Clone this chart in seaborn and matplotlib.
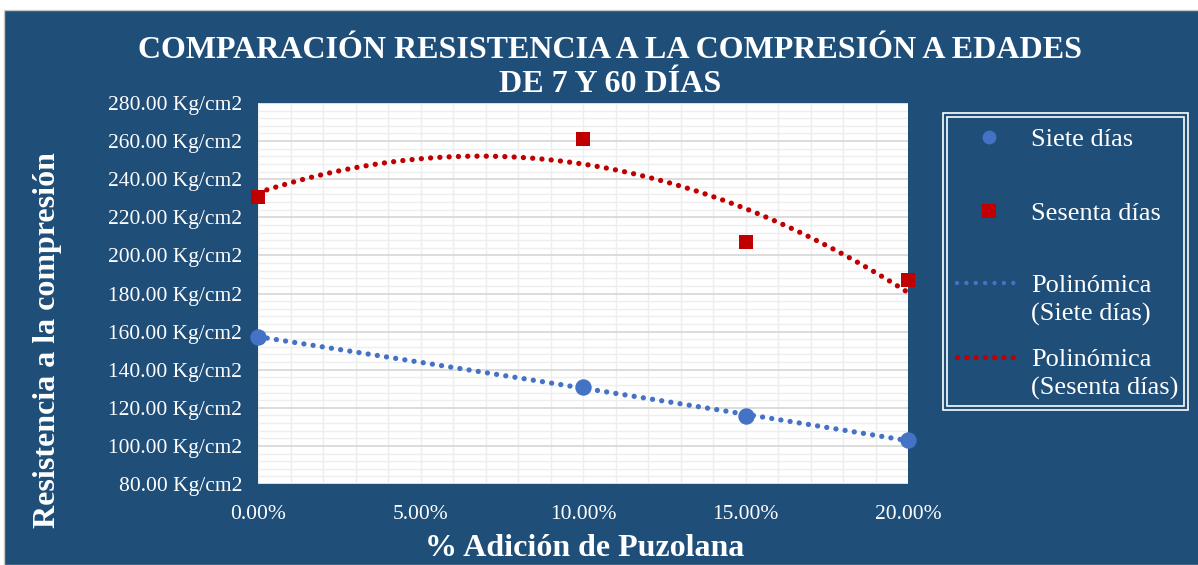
import numpy as np
import pandas as pd
import matplotlib
matplotlib.use("Agg")
import matplotlib.pyplot as plt
import seaborn as sns
from matplotlib.patches import Rectangle
from matplotlib.lines import Line2D
from matplotlib.ticker import MultipleLocator, FuncFormatter

# Data
adicion = [0.00, 0.10, 0.15, 0.20]
siete_dias = [157.2, 131.0, 115.7, 103.1]
sesenta_dias = [230.7, 261.1, 207.0, 187.1]

xticks = [0.00, 0.05, 0.10, 0.15, 0.20]
yticks = [80, 100, 120, 140, 160, 180, 200, 220, 240, 260, 280]

bg = "#1F4E79"
blue = "#4472C4"
red = "#C00000"

df = pd.DataFrame({"adicion": adicion, "siete": siete_dias, "sesenta": sesenta_dias})

sns.set_style("white")
plt.rcParams["font.family"] = ["Liberation Serif", "DejaVu Serif"]

W, H = 1198, 565
fig = plt.figure(figsize=(11.98, 5.65), dpi=100)
fig.patch.set_facecolor("white")
fig.patches.append(Rectangle((4 / W, 0), 1, (H - 10) / H, transform=fig.transFigure,
                             facecolor=bg, edgecolor="#c8c8c8", lw=1, zorder=-10))

ax = fig.add_axes([258 / W, (H - 484) / H, 650 / W, 381 / H])
ax.set_facecolor("white")

# trendlines (2nd order polynomial, like the spreadsheet's trend)
line_kw = dict(lw=3.8, linestyle=(0, (0.01, 1.75)), dash_capstyle="round", zorder=3)
sns.regplot(data=df, x="adicion", y="siete", order=2, ci=None, scatter=False, ax=ax,
            line_kws=dict(color=blue, **line_kw))
sns.regplot(data=df, x="adicion", y="sesenta", order=2, ci=None, scatter=False, ax=ax,
            line_kws=dict(color=red, **line_kw))

sns.scatterplot(data=df, x="adicion", y="siete", ax=ax, color=blue, marker="o", s=140,
                edgecolor=blue, linewidth=0, zorder=4, clip_on=False)
sns.scatterplot(data=df, x="adicion", y="sesenta", ax=ax, color=red, marker="s", s=115,
                edgecolor=red, linewidth=0, zorder=4, clip_on=False)

ax.set_xlim(0, 0.20)
ax.set_ylim(80, 280)
ax.set_xticks(xticks)
ax.set_yticks(yticks)
ax.xaxis.set_minor_locator(MultipleLocator(0.01))
ax.yaxis.set_minor_locator(MultipleLocator(4))
ax.xaxis.set_major_formatter(FuncFormatter(lambda v, p: f"{v * 100:.2f}%"))
ax.yaxis.set_major_formatter(FuncFormatter(lambda v, p: f"{v:.2f} Kg/cm2"))
ax.grid(which="major", axis="y", color="#d9d9d9", lw=1.3, zorder=0)
ax.grid(which="major", axis="x", color="#eeeeee", lw=1.0, zorder=0)
ax.grid(which="minor", axis="both", color="#eeeeee", lw=1.0, zorder=0)
ax.set_axisbelow(True)
ax.tick_params(axis="both", which="both", length=0, colors="white", labelsize=15.5)
ax.tick_params(axis="x", pad=15)
ax.tick_params(axis="y", pad=11.5)
for s in ax.spines.values():
    s.set_visible(False)
ax.set_xlabel("")
ax.set_ylabel("")

# title in two lines
title_lines = ["COMPARACIÓN RESISTENCIA A LA COMPRESIÓN A EDADES", "DE 7 Y 60 DÍAS"]
for line, yy in zip(title_lines, [50, 85]):
    fig.text(610 / W, 1 - yy / H, line, ha="center", va="center", color="white",
             fontsize=23, fontweight="bold")
fig.text(585 / W, 1 - 549 / H, "% Adición de Puzolana", ha="center", va="center",
         color="white", fontsize=23, fontweight="bold")
fig.text(48 / W, 1 - 340 / H, "Resistencia a la compresión", ha="center", va="center",
         rotation=90, color="white", fontsize=23, fontweight="bold")

# legend box with double border
fig.patches.append(Rectangle((943 / W, 1 - 410 / H), 245 / W, 297 / H, transform=fig.transFigure,
                             fill=False, edgecolor="white", lw=1.2))
fig.patches.append(Rectangle((947 / W, 1 - 406 / H), 237 / W, 289 / H, transform=fig.transFigure,
                             fill=False, edgecolor="white", lw=1.2))

# legend entries
leg_labels = ["Siete días", "Sesenta días", "Polinómica\n(Siete días)", "Polinómica\n(Sesenta días)"]
leg_rows = [137, 211, 283, 357]
tf = fig.transFigure
fig.add_artist(Line2D([989 / W], [1 - leg_rows[0] / H], transform=tf, color=blue, marker="o",
                      ls="none", markersize=10, markeredgewidth=0))
fig.add_artist(Line2D([989 / W], [1 - leg_rows[1] / H], transform=tf, color=red, marker="s",
                      ls="none", markersize=9.5, markeredgewidth=0))
fig.add_artist(Line2D([957 / W, 1018 / W], [1 - leg_rows[2] / H] * 2, transform=tf, color=blue,
                      lw=3.2, linestyle=(0, (0.01, 2.1)), dash_capstyle="round"))
fig.add_artist(Line2D([957 / W, 1018 / W], [1 - leg_rows[3] / H] * 2, transform=tf, color=red,
                      lw=3.8, linestyle=(0, (0.01, 1.75)), dash_capstyle="round"))
for lab, row in zip(leg_labels, leg_rows):
    fig.text(1031 / W, 1 - (row - 8) / H, lab, ha="left", va="top", color="white",
             fontsize=19, linespacing=1.35)

fig.savefig("out.png", dpi=100, facecolor=fig.get_facecolor())
